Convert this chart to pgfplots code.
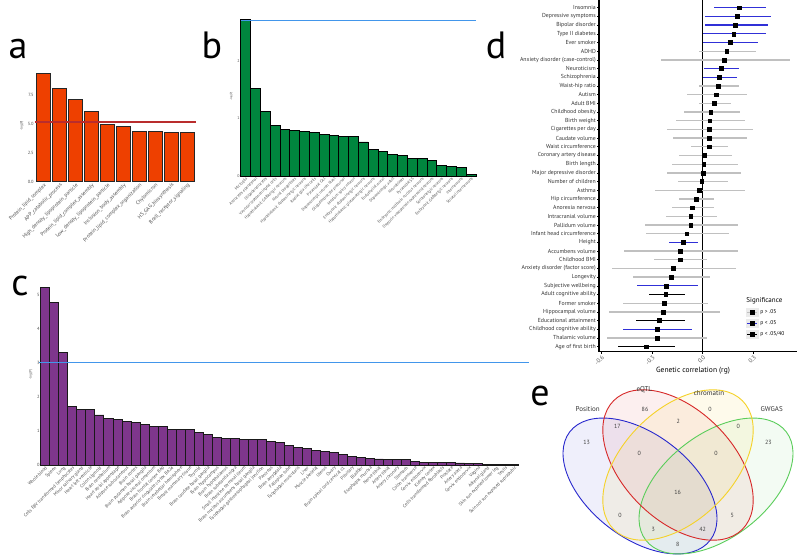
\documentclass[border=0pt]{standalone}
\usepackage{fontspec}
\setmainfont{PT Sans}
\usepackage{pgfplots}
\pgfplotsset{compat=1.18}
\definecolor{barA}{RGB}{238,64,0}
\definecolor{barB}{RGB}{0,133,62}
\definecolor{barC}{RGB}{126,54,140}
\definecolor{refblue}{RGB}{66,150,235}
\definecolor{refred}{RGB}{185,45,45}
\definecolor{sigblue}{RGB}{48,48,215}
\definecolor{nsgray}{RGB}{192,192,192}
\definecolor{tickgray}{RGB}{80,80,80}
\definecolor{vblue}{RGB}{40,40,205}
\definecolor{vred}{RGB}{215,40,40}
\definecolor{vyellow}{RGB}{245,210,40}
\definecolor{vgreen}{RGB}{90,205,90}
\pgfplotsset{
  barpanel/.style={
    scale only axis, clip=false,
    axis lines=left, axis line style={draw=none},
    major tick length=0pt, ymin=0,
    /pgf/number format/assume math mode=true,
    tick label style={text=tickgray},
    x tick label style={rotate=45, anchor=north east, inner sep=0.5pt},
    yticklabel style={inner sep=1pt},
    ylabel={-log(P)},
  },
}
\tikzset{panellabel/.style={font=\fontsize{38}{38}\selectfont, anchor=base, inner sep=0pt}}
\begin{document}
\begin{tikzpicture}
\fill[white] (0pt,0pt) rectangle (800pt,555pt);
\useasboundingbox (0pt,0pt) rectangle (800pt,555pt);

% ---------- panel a ----------
\begin{axis}[barpanel, at={(34.9pt,373.3pt)}, anchor=south west,
  x=15.95pt, y=11.6pt, xmin=-0.55, xmax=9.55, ymax=9.6,
  ytick={0,2.5,5,7.5},
  yticklabel style={font=\fontsize{4.5}{5}\selectfont, /pgf/number format/fixed, /pgf/number format/fixed zerofill, /pgf/number format/precision=1},
  xtick={0,...,9},
  xticklabels={Protein\_lipid\_complex, APP\_catabolic\_process, High\_density\_lipoprotein\_particle, Protein\_lipid\_complex\_assembly, Low\_density\_lipoprotein\_particle, Inclusion\_body\_assembly, Protein\_lipid\_complex\_organization, Chylomicron, HS\_GAG\_biosynthesis, Bcell\_receptor\_signaling},
  x tick label style={font=\fontsize{5.3}{6}\selectfont},
  ylabel style={font=\fontsize{3.5}{4}\selectfont, text=tickgray},
]
\addplot[ybar, bar width=14pt, fill=barA, draw=black!85, line width=0.8pt] coordinates {
(0,9.34) (1,8.05) (2,7.07) (3,6.06) (4,4.91) (5,4.80) (6,4.31) (7,4.31) (8,4.25) (9,4.25)};
\addplot[refred, line width=1.2pt, sharp plot, mark=none] coordinates {(-0.55,5.14) (9.55,5.14)};
\end{axis}

% ---------- panel b ----------
\begin{axis}[barpanel, at={(240.7pt,379pt)}, anchor=south west,
  x=9.8pt, y=57.7pt, xmin=-0.5, xmax=23.5, ymax=2.75,
  ytick={0,1,2},
  yticklabel style={font=\fontsize{4}{5}\selectfont},
  xtick={0,...,23},
  xticklabels={Microglia, Astrocytes ependymal, Oligodendrocytes, Vascular leptomeningeal cells, Hypothalamic GABAergic neurons, Neural progenitors, Hypothalamic dopaminergic neurons, Radial glia like cells, Pyramidal CA1, Dopaminergic neuron blast, Oligodendrocyte precursor, Medium spiny neuron, Embryonic dopaminergic neurons, Hypothalamic glutamatergic neurons, Endothelial mural, Dopaminergic adult, Neuroblasts, Pyramidal SS, Embryonic midbrain nucleus neurons, Oxytocin vasopressin expressing neurons, Serotonergic neurons, Embryonic GABAergic neurons, Interneurons, Striatal interneurons},
  x tick label style={font=\fontsize{4}{5}\selectfont},
  ylabel style={font=\fontsize{3}{4}\selectfont, text=tickgray},
]
\addplot[ybar, bar width=9.8pt, fill=barB, draw=black, line width=0.7pt] coordinates {
(0,2.72) (1,1.52) (2,1.12) (3,0.87) (4,0.80) (5,0.79) (6,0.77) (7,0.75) (8,0.72) (9,0.70) (10,0.69) (11,0.68) (12,0.59) (13,0.46) (14,0.42) (15,0.37) (16,0.36) (17,0.31) (18,0.30) (19,0.27) (20,0.19) (21,0.17) (22,0.15) (23,0.02)};
\addplot[refblue, line width=1.2pt, sharp plot, mark=none] coordinates {(-0.5,2.70) (23.5,2.70)};
\end{axis}

% ---------- panel c ----------
\begin{axis}[barpanel, at={(40.7pt,90pt)}, anchor=south west,
  x=9.02pt, y=34.1pt, xmin=-0.5, xmax=52.5, ymax=5.3,
  ytick={0,1,2,3,4,5},
  yticklabel style={font=\fontsize{4.5}{5}\selectfont},
  xtick={0,...,52},
  xticklabels={Whole blood, Spleen, Lung, Cells EBV transformed lymphocytes, Minor salivary gland, Heart left ventricle, Colon sigmoid, Brain cerebellum, Heart atrial appendage, Adipose subcutaneous, Brain cortex, Brain putamen basal ganglia, Adipose visceral omentum, Brain frontal cortex BA9, Brain anterior cingulate cortex BA24, Brain cerebellar hemisphere, Breast mammary tissue, Thyroid, Brain caudate basal ganglia, Brain hippocampus, Brain hypothalamus, Brain substantia nigra, Small intestine terminal ileum, Brain nucleus accumbens basal ganglia, Esophagus gastroesophageal junction, Pancreas, Brain amygdala, Fallopian tube, Esophagus muscularis, Liver, Muscle skeletal, Uterus, Ovary, Brain spinal cord cervical c1, Pituitary, Bladder, Esophagus mucosa, Nerve tibial, Artery tibial, Artery coronary, Stomach, Colon transverse, Cervix ectocervix, Kidney cortex, Cells transformed fibroblasts, Prostate, Artery aorta, Cervix endocervix, Vagina, Adrenal gland, Skin sun exposed lower leg, Testis, Skin not sun exposed suprapubic},
  x tick label style={font=\fontsize{4.6}{5}\selectfont},
  ylabel style={font=\fontsize{3.5}{4}\selectfont, text=tickgray},
]
\addplot[ybar, bar width=9.02pt, fill=barC, draw=black!90, line width=0.7pt] coordinates {
(0,5.20) (1,4.78) (2,3.29) (3,1.73) (4,1.64) (5,1.62) (6,1.47) (7,1.36) (8,1.33) (9,1.27)
(10,1.25) (11,1.19) (12,1.13) (13,1.12) (14,1.05) (15,1.05) (16,1.04) (17,0.96) (18,0.90) (19,0.81)
(20,0.78) (21,0.78) (22,0.75) (23,0.75) (24,0.74) (25,0.68) (26,0.67) (27,0.57) (28,0.52) (29,0.49)
(30,0.43) (31,0.39) (32,0.36) (33,0.31) (34,0.25) (35,0.22) (36,0.20) (37,0.18) (38,0.16) (39,0.16)
(40,0.16) (41,0.10) (42,0.08) (43,0.08) (44,0.08) (45,0.08) (46,0.06) (47,0.05) (48,0.05) (49,0.02)
(50,0.02) (51,0.02) (52,0.02)};
\addplot[refblue, line width=1.2pt, sharp plot, mark=none] coordinates {(-0.65,3) (53.6,3)};
\end{axis}

% ---------- panel d ----------
\begin{axis}[at={(599pt,203.3pt)}, anchor=south west, scale only axis, clip=false,
  x=169pt, y=8.69pt, xmin=-0.614, xmax=0.557, ymin=0.42, ymax=40.9,
  axis x line*=bottom, axis y line*=left, axis line style={line width=1.1pt,-},
  tick align=outside, major tick length=2pt, tick style={line width=0.6pt, black},
  /pgf/number format/assume math mode=true,
  xtick={-0.6,-0.3,0,0.3},
  xticklabel style={font=\fontsize{6}{7}\selectfont, text=tickgray, rotate=45, anchor=north east, inner sep=1pt, /pgf/number format/fixed, /pgf/number format/fixed zerofill, /pgf/number format/precision=1},
  ytick={1,...,40},
  yticklabels={Age of first birth, Thalamic volume, Childhood cognitive ability, Educational attainment, Hippocampal volume, Former smoker, Adult cognitive ability, Subjective wellbeing, Longevity, Anxiety disorder (factor score), Childhood BMI, Accumbens volume, Height, Infant head circumference, Pallidum volume, Intracranial volume, Anorexia nervosa, Hip circumference, Asthma, Number of children, Major depressive disorder, Birth length, Coronary artery disease, Waist circumference, Caudate volume, Cigarettes per day, Birth weight, Childhood obesity, Adult BMI, Autism, Waist-hip ratio, Schizophrenia, Neuroticism, Anxiety disorder (case-control), ADHD, Ever smoker, Type II diabetes, Bipolar disorder, Depressive symptoms, Insomnia},
  yticklabel style={font=\fontsize{5.8}{6}\selectfont, text=black!80, inner sep=1pt},
  xlabel={Genetic correlation (rg)},
  xlabel style={font=\fontsize{7.5}{8}\selectfont, at={(axis description cs:0.475,0)}, anchor=north, yshift=-12pt},
  legend style={at={(axis cs:0.255,6.9)}, anchor=north west, draw=none, fill=none, font=\fontsize{5.5}{6}\selectfont, row sep=1.5pt, inner sep=0pt},
  legend cell align=left,
]
\draw[line width=1.1pt] (axis cs:0,0.42) -- (axis cs:0,40.9);
% gray: p > .05
\addplot[only marks, mark=square*, mark size=1.9pt, black, forget plot,
  error bars/.cd, x dir=both, x explicit, error bar style={line width=1.3pt, nsgray}, error mark options={opacity=0}]
  table[x=x, y=y, x error plus=ep, x error minus=em] {
y x ep em
35 0.142 0.174 0.164
34 0.126 0.391 0.376
31 0.091 0.126 0.115
30 0.079 0.181 0.170
29 0.067 0.099 0.089
28 0.047 0.172 0.161
27 0.041 0.211 0.201
26 0.039 0.261 0.248
25 0.037 0.223 0.213
24 0.036 0.112 0.105
23 0.010 0.162 0.148
22 0.006 0.201 0.191
21 0.004 0.221 0.213
20 -0.006 0.154 0.142
19 -0.022 0.271 0.260
18 -0.039 0.108 0.099
17 -0.063 0.132 0.122
16 -0.071 0.158 0.148
15 -0.071 0.280 0.270
14 -0.095 0.253 0.242
12 -0.134 0.341 0.331
11 -0.134 0.158 0.152
10 -0.176 0.371 0.359
9 -0.187 0.230 0.223
6 -0.227 0.259 0.246
5 -0.235 0.338 0.319
2 -0.272 0.296 0.292
};
% blue: p < .05
\addplot[only marks, mark=square*, mark size=1.9pt, black, forget plot,
  error bars/.cd, x dir=both, x explicit, error bar style={line width=1.3pt, sigblue}, error mark options={opacity=0}]
  table[x=x, y=y, x error plus=ep, x error minus=em] {
y x ep em
40 0.215 0.158 0.150
39 0.203 0.199 0.189
38 0.193 0.190 0.179
37 0.183 0.192 0.183
36 0.160 0.169 0.160
33 0.107 0.106 0.097
32 0.097 0.106 0.097
13 -0.118 0.092 0.081
8 -0.215 0.189 0.174
3 -0.272 0.211 0.201
};
% black: p < .05/40
\addplot[only marks, mark=square*, mark size=1.9pt, black, forget plot,
  error bars/.cd, x dir=both, x explicit, error bar style={line width=1.3pt, black}, error mark options={opacity=0}]
  table[x=x, y=y, x error plus=ep, x error minus=em] {
y x ep em
7 -0.219 0.112 0.102
4 -0.258 0.150 0.140
1 -0.333 0.169 0.166
};
\addlegendimage{empty legend}
\addlegendentry{\hspace*{-14pt}\fontsize{7}{8}\selectfont Significance}
\addlegendimage{legend image code/.code={\fill[black!8] (0pt,-4pt) rectangle (12pt,4pt); \draw[nsgray,line width=1.2pt] (1pt,0pt) -- (11pt,0pt); \fill[black] (4.3pt,-1.7pt) rectangle (7.7pt,1.7pt);}}
\addlegendentry{p > .05}
\addlegendimage{legend image code/.code={\fill[black!8] (0pt,-4pt) rectangle (12pt,4pt); \draw[sigblue,line width=1.2pt] (1pt,0pt) -- (11pt,0pt); \fill[black] (4.3pt,-1.7pt) rectangle (7.7pt,1.7pt);}}
\addlegendentry{p < .05}
\addlegendimage{legend image code/.code={\fill[black!8] (0pt,-4pt) rectangle (12pt,4pt); \draw[black,line width=1.2pt] (1pt,0pt) -- (11pt,0pt); \fill[black] (4.3pt,-1.7pt) rectangle (7.7pt,1.7pt);}}
\addlegendentry{p < .05/40}
\end{axis}

% ---------- panel e ----------
\begin{axis}[at={(550pt,0pt)}, anchor=south west, scale only axis, x=1pt, y=1pt,
  xmin=550, xmax=800, ymin=0, ymax=175, hide axis, clip=false]
\fill[vblue, fill opacity=0.07, rotate around={-37.7:(axis cs:640,69)}] (axis cs:640,69) ellipse [x radius=88.7, y radius=51.7];
\fill[vgreen, fill opacity=0.07, rotate around={37.7:(axis cs:716,69)}] (axis cs:716,69) ellipse [x radius=88.7, y radius=51.7];
\fill[vred, fill opacity=0.07, rotate around={-45:(axis cs:678,90)}] (axis cs:678,90) ellipse [x radius=91, y radius=55];
\fill[vyellow, fill opacity=0.09, rotate around={45:(axis cs:678,90)}] (axis cs:678,90) ellipse [x radius=91, y radius=55];
\draw[vblue, line width=0.9pt, rotate around={-37.7:(axis cs:640,69)}] (axis cs:640,69) ellipse [x radius=88.7, y radius=51.7];
\draw[vgreen, line width=0.9pt, rotate around={37.7:(axis cs:716,69)}] (axis cs:716,69) ellipse [x radius=88.7, y radius=51.7];
\draw[vred, line width=0.9pt, rotate around={-45:(axis cs:678,90)}] (axis cs:678,90) ellipse [x radius=91, y radius=55];
\draw[vyellow, line width=0.9pt, rotate around={45:(axis cs:678,90)}] (axis cs:678,90) ellipse [x radius=91, y radius=55];
\addplot[draw=none, mark=none, nodes near coords, point meta=explicit symbolic,
  every node near coord/.append style={anchor=center, inner sep=0pt, font=\fontsize{6}{7}\selectfont, text=black!75}]
  table[x=x, y=y, meta=t] {
x y t
586.7 112.3 13
645 146 86
710 146 0
768.3 112.3 23
617.3 129 17
678.3 134 2
738.3 129 0
639.3 101.7 0
716 101.7 0
677.7 62.3 16
620 40 0
732.3 40 5
653.3 25.7 3
702.7 25.7 42
677.7 10.7 8
};
\addplot[draw=none, mark=none, nodes near coords, point meta=explicit symbolic,
  every node near coord/.append style={anchor=center, inner sep=0pt, font=\fontsize{7}{8}\selectfont, text=black!80}]
  table[x=x, y=y, meta=t] {
x y t
587.7 146 Position
644.3 165 eQTL
709 162 chromatin
771.7 146 GWGAS
};
\end{axis}

% panel letters
\node[panellabel] at (18pt,496pt) {a};
\node[panellabel] at (212pt,496pt) {b};
\node[panellabel] at (20pt,260pt) {c};
\node[panellabel] at (496pt,496pt) {d};
\node[panellabel] at (540pt,150pt) {e};
\end{tikzpicture}
\end{document}
